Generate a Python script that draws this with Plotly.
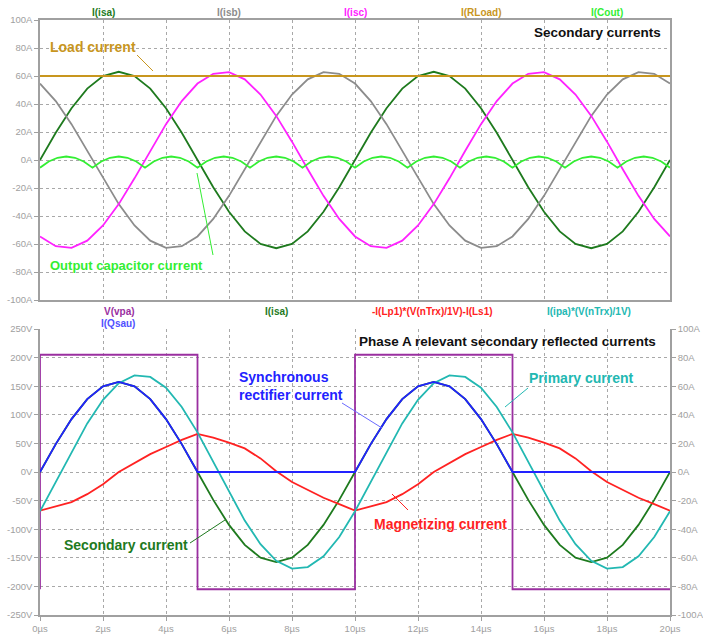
import numpy as np
import plotly.graph_objects as go

# ---------------- data ----------------
t = [round(0.5 * i, 2) for i in range(41)]          # µs, 0..20
t_ripple = [round(10 / 36 * i, 4) for i in range(73)]  # µs, 0..20

# Top plot: secondary currents (A)
i_isa = [0, 19.5, 37.0, 51.0, 59.9, 63.0, 59.9, 51.0, 37.0, 19.5,
         0, -19.5, -37.0, -51.0, -59.9, -63.0, -59.9, -51.0, -37.0, -19.5,
         0, 19.5, 37.0, 51.0, 59.9, 63.0, 59.9, 51.0, 37.0, 19.5,
         0, -19.5, -37.0, -51.0, -59.9, -63.0, -59.9, -51.0, -37.0, -19.5, 0]
i_isb = [54.6, 42.1, 25.6, 6.6, -13.1, -31.5, -46.8, -57.6, -62.7, -61.6,
         -54.6, -42.1, -25.6, -6.6, 13.1, 31.5, 46.8, 57.6, 62.7, 61.6,
         54.6, 42.1, 25.6, 6.6, -13.1, -31.5, -46.8, -57.6, -62.7, -61.6,
         -54.6, -42.1, -25.6, -6.6, 13.1, 31.5, 46.8, 57.6, 62.7, 61.6, 54.6]
i_isc = [-54.6, -61.6, -62.7, -57.6, -46.8, -31.5, -13.1, 6.6, 25.6, 42.1,
         54.6, 61.6, 62.7, 57.6, 46.8, 31.5, 13.1, -6.6, -25.6, -42.1,
         -54.6, -61.6, -62.7, -57.6, -46.8, -31.5, -13.1, 6.6, 25.6, 42.1,
         54.6, 61.6, 62.7, 57.6, 46.8, 31.5, 13.1, -6.6, -25.6, -42.1, -54.6]
t_load = [0, 20]
i_load = [60, 60]
i_cout = [-5.5, -1.1, 1.6, 2.5, 1.6, -1.1,
          -5.5, -1.1, 1.6, 2.5, 1.6, -1.1,
          -5.5, -1.1, 1.6, 2.5, 1.6, -1.1,
          -5.5, -1.1, 1.6, 2.5, 1.6, -1.1,
          -5.5, -1.1, 1.6, 2.5, 1.6, -1.1,
          -5.5, -1.1, 1.6, 2.5, 1.6, -1.1,
          -5.5, -1.1, 1.6, 2.5, 1.6, -1.1,
          -5.5, -1.1, 1.6, 2.5, 1.6, -1.1,
          -5.5, -1.1, 1.6, 2.5, 1.6, -1.1,
          -5.5, -1.1, 1.6, 2.5, 1.6, -1.1,
          -5.5, -1.1, 1.6, 2.5, 1.6, -1.1,
          -5.5, -1.1, 1.6, 2.5, 1.6, -1.1,
          -5.5]

# Bottom plot
t_vpa = [0, 0, 5, 5, 10, 10, 15, 15, 20]
v_vpa = [-205, 205, 205, -205, -205, 205, 205, -205, -205]      # V
i_qsau = [0, 19.5, 37.0, 51.0, 59.9, 63.0, 59.9, 51.0, 37.0, 19.5,
          0, 0, 0, 0, 0, 0, 0, 0, 0, 0,
          0, 19.5, 37.0, 51.0, 59.9, 63.0, 59.9, 51.0, 37.0, 19.5,
          0, 0, 0, 0, 0, 0, 0, 0, 0, 0, 0]
i_mag = [-27, -24, -21, -15.5, -8.5, 0, 6.5, 12.5, 17.5, 22.5,
         26.6, 24, 20.5, 16.5, 9.5, 0.5, -7, -12.5, -18, -22.5,
         -27, -24, -21, -15.5, -8.5, 0, 6.5, 12.5, 17.5, 22.5,
         26.6, 24, 20.5, 16.5, 9.5, 0.5, -7, -12.5, -18, -22.5, -27]
i_pri = [-27.5, -7.1, 14.1, 34, 50.5, 62.1, 67.6, 66.5, 58.9, 45.5,
         27.7, 7.1, -14.1, -34, -50.5, -62.1, -67.6, -66.5, -58.9, -45.5,
         -27.5, -7.1, 14.1, 34, 50.5, 62.1, 67.6, 66.5, 58.9, 45.5,
         27.7, 7.1, -14.1, -34, -50.5, -62.1, -67.6, -66.5, -58.9, -45.5, -27.5]

x_ticks = list(range(0, 21, 2))
top_ticks = list(range(-100, 101, 20))
volt_ticks = list(range(-250, 251, 50))
amp_ticks = list(range(-100, 101, 20))

# ---------------- colours ----------------
C_ISA = "#1e7a1e"
C_ISB = "#8c8c8c"
C_ISC = "#ff22ff"
C_LOAD = "#c8961e"
C_COUT = "#33ee33"
C_VPA = "#9a2fa0"
C_QSAU = "#2222ff"
C_MAG = "#ff2222"
C_PRI = "#22b8b2"
GRID = "#a8a8a8"
AXC = "#a0a0a0"
TICKF = dict(family="Liberation Sans, Arial, sans-serif", size=9.5, color="#a0a0a0")

W, H = 703, 639
ML, MR, MT, MB = 40, 33, 20, 24


def px(x):
    return (x - ML) / (W - ML - MR)


def py(y):
    return (H - MB - y) / (H - MT - MB)


fig = go.Figure()
lw = 1.8
fig.add_trace(go.Scatter(x=t, y=i_isa, mode="lines", line=dict(color=C_ISA, width=lw), xaxis="x", yaxis="y"))
fig.add_trace(go.Scatter(x=t, y=i_isb, mode="lines", line=dict(color=C_ISB, width=lw), xaxis="x", yaxis="y"))
fig.add_trace(go.Scatter(x=t, y=i_isc, mode="lines", line=dict(color=C_ISC, width=lw), xaxis="x", yaxis="y"))
fig.add_trace(go.Scatter(x=t_load, y=i_load, mode="lines", line=dict(color=C_LOAD, width=lw), xaxis="x", yaxis="y"))
fig.add_trace(go.Scatter(x=t_ripple, y=i_cout, mode="lines", line=dict(color=C_COUT, width=lw), xaxis="x", yaxis="y"))

fig.add_trace(go.Scatter(x=t_vpa, y=v_vpa, mode="lines", line=dict(color=C_VPA, width=lw), xaxis="x2", yaxis="y2"))
fig.add_trace(go.Scatter(x=t, y=i_isa, mode="lines", line=dict(color=C_ISA, width=lw), xaxis="x2", yaxis="y3"))
fig.add_trace(go.Scatter(x=t, y=i_mag, mode="lines", line=dict(color=C_MAG, width=lw), xaxis="x2", yaxis="y3"))
fig.add_trace(go.Scatter(x=t, y=i_pri, mode="lines", line=dict(color=C_PRI, width=lw), xaxis="x2", yaxis="y3"))
fig.add_trace(go.Scatter(x=t, y=i_qsau, mode="lines", line=dict(color=C_QSAU, width=lw), xaxis="x2", yaxis="y3"))

top_dom = [py(300), py(20)]
bot_dom = [py(615), py(329)]

common_x = dict(range=[0, 20], tickvals=x_ticks, showgrid=True, gridcolor=GRID, griddash="dot",
                gridwidth=1, zeroline=False, showline=True, linecolor=AXC, linewidth=1.5,
                tickfont=TICKF, automargin=False)

fig.update_layout(
    width=W, height=H,
    margin=dict(l=ML, r=MR, t=MT, b=MB, autoexpand=False),
    paper_bgcolor="white", plot_bgcolor="white",
    showlegend=False, hovermode=False,
    xaxis=dict(**common_x, domain=[0, 1], anchor="y", showticklabels=False, ticks="", mirror=True),
    yaxis=dict(domain=top_dom, anchor="x", range=[-100, 100], tickvals=top_ticks,
               ticktext=[f"{v}A" for v in top_ticks], showgrid=True, gridcolor=GRID,
               griddash="dot", zeroline=False, showline=True, linecolor=AXC, linewidth=1.5,
               mirror=True, ticks="outside", ticklen=4, tickcolor=AXC, tickfont=TICKF,
               automargin=False),
    xaxis2=dict(**common_x, domain=[0, 1], anchor="y2", ticks="outside", ticklen=4, tickcolor=AXC,
                ticktext=[f"{v}µs" for v in x_ticks]),
    yaxis2=dict(domain=bot_dom, anchor="x2", range=[-250, 250], tickvals=volt_ticks,
                ticktext=[f"{v}V" for v in volt_ticks], showgrid=True, gridcolor=GRID,
                griddash="dot", zeroline=False, showline=True, linecolor=AXC, linewidth=1.5,
                ticks="outside", ticklen=4, tickcolor=AXC, tickfont=TICKF, automargin=False),
    yaxis3=dict(overlaying="y2", side="right", anchor="x2", range=[-100, 100], tickvals=amp_ticks,
                ticktext=[f"{v}A" for v in amp_ticks], showgrid=False, zeroline=False,
                showline=True, linecolor=AXC, linewidth=1.5, ticks="outside", ticklen=4,
                tickcolor=AXC, tickfont=TICKF, automargin=False),
)

BF = "Liberation Sans, Arial, sans-serif"
annots = []


def label(text, x, y, color, size, xanchor="center", bold=True, align="left"):
    annots.append(dict(text=f"<b>{text}</b>" if bold else text, x=px(x), y=py(y), xref="paper",
                       yref="paper", xanchor=xanchor, yanchor="middle", showarrow=False,
                       align=align, font=dict(family=BF, size=size, color=color)))


# trace names
label("I(isa)", 103, 12.5, C_ISA, 10)
label("I(isb)", 229, 12.5, C_ISB, 10)
label("I(isc)", 355, 12.5, C_ISC, 10)
label("I(RLoad)", 481, 12.5, C_LOAD, 10)
label("I(Cout)", 607, 12.5, C_COUT, 10)
label("V(vpa)", 119, 311.5, C_VPA, 10)
label("I(Qsau)", 118, 323.5, "#5050ff", 10)
label("I(isa)", 276, 311.5, C_ISA, 10)
label("-I(Lp1)*(V(nTrx)/1V)-I(Ls1)", 432, 311.5, C_MAG, 10)
label("I(ipa)*(V(nTrx)/1V)", 589, 311.5, C_PRI, 10)

# callouts
label("Load current", 48, 47, C_LOAD, 14, xanchor="left")
label("Secondary currents", 663, 32, "#111111", 13.5, xanchor="right")
label("Output capacitor current", 48, 265, C_COUT, 13, xanchor="left")
label("Phase A relevant secondary reflected currents", 658, 341, "#111111", 13.5, xanchor="right")
label("Synchronous<br>rectifier current", 237, 386, C_QSAU, 14, xanchor="left")
label("Primary current", 527, 378, C_PRI, 14, xanchor="left")
label("Magnetizing current", 372, 524, C_MAG, 14, xanchor="left")
label("Secondary current", 62, 545, C_ISA, 14, xanchor="left")

fig.update_layout(annotations=annots)

shapes = []


def pointer(x0, y0, x1, y1, color):
    shapes.append(dict(type="line", xref="paper", yref="paper", x0=px(x0), y0=py(y0),
                       x1=px(x1), y1=py(y1), line=dict(color=color, width=1)))


pointer(137, 55, 153, 71, C_LOAD)
pointer(213, 255, 197, 173, C_COUT)
pointer(342, 403, 382, 428, "#6a6aff")
pointer(528, 388, 505, 407, C_PRI)
pointer(408, 510, 392, 494, C_MAG)
pointer(190, 543, 225, 520, C_ISA)
fig.update_layout(shapes=shapes)

fig.write_html("out.html", config={"displayModeBar": False})
